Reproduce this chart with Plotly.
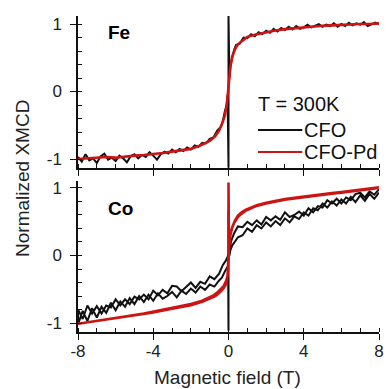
import plotly.graph_objects as go

# ---------------- data ----------------
fe_cfo_H = [-8.0, -7.8, -7.6, -7.4, -7.2, -7.0, -6.8, -6.6, -6.4, -6.2, -6.0, -5.8, -5.6, -5.4, -5.2,
            -5.0, -4.8, -4.6, -4.4, -4.2, -4.0, -3.8, -3.6, -3.4, -3.2, -3.0, -2.8, -2.6, -2.4, -2.2,
            -2.0, -1.8, -1.6, -1.4, -1.2, -1.0, -0.8, -0.6, -0.4,
            -0.3, -0.2, -0.1, -0.05, 0.0, 0.0, 0.05, 0.1, 0.2, 0.3,
            0.4, 0.6, 0.8, 1.0, 1.2, 1.4, 1.6, 1.8, 2.0, 2.2, 2.4, 2.6, 2.8, 3.0, 3.2, 3.4, 3.6, 3.8,
            4.0, 4.2, 4.4, 4.6, 4.8, 5.0, 5.2, 5.4, 5.6, 5.8, 6.0, 6.2, 6.4, 6.6, 6.8, 7.0, 7.2, 7.4,
            7.6, 7.8, 8.0]
fe_cfo_M = [-0.97, -1.04, -0.93, -1.02, -0.99, -1.06, -0.96, -0.92, -1.01, -0.98, -1.03, -0.95, -0.99,
            -1.05, -0.96, -0.93, -0.99, -0.94, -0.97, -0.90, -0.95, -1.01, -0.93, -0.89, -0.92, -0.86,
            -0.90, -0.85, -0.88, -0.83, -0.86, -0.80, -0.82, -0.76, -0.77, -0.70, -0.68, -0.58, -0.52,
            -0.44, -0.30, -0.20, -0.05, -1.13, 1.12, 0.20, 0.38, 0.50, 0.62,
            0.69, 0.71, 0.80, 0.79, 0.85, 0.82, 0.88, 0.85, 0.90, 0.87, 0.93, 0.89, 0.94, 0.91, 0.96,
            0.92, 0.97, 0.93, 0.95, 0.99, 0.95, 0.98, 1.00, 0.96, 0.99, 0.97, 1.01, 0.96, 1.00, 0.97,
            1.02, 0.98, 1.01, 0.99, 1.03, 0.97, 0.99, 1.02, 1.00]

fe_pd_H = [-8, -7.5, -7, -6.5, -6, -5.5, -5, -4.5, -4, -3.5, -3, -2.5, -2, -1.5, -1, -0.7, -0.5,
           -0.35, -0.2, -0.1, 0, 0.1, 0.2, 0.35, 0.5, 0.7, 1, 1.5, 2, 2.5, 3, 3.5, 4, 4.5, 5, 5.5,
           6, 6.5, 7, 7.5, 8]
fe_pd_M = [-1.0, -0.99, -0.99, -0.97, -0.98, -0.96, -0.95, -0.94, -0.93, -0.91, -0.89, -0.87, -0.85,
           -0.80, -0.73, -0.66, -0.58, -0.48, -0.36, -0.22, 0.05, 0.36, 0.52, 0.63, 0.70, 0.75, 0.81,
           0.85, 0.88, 0.905, 0.925, 0.94, 0.955, 0.965, 0.975, 0.98, 0.99, 0.995, 1.0, 1.0, 1.01]

co_cfo_desc_H = [8.0, 7.75, 7.5, 7.25, 7.0, 6.75, 6.5, 6.25, 6.0, 5.75, 5.5, 5.25, 5.0, 4.75, 4.5,
                 4.25, 4.0, 3.75, 3.5, 3.25, 3.0, 2.75, 2.5, 2.25, 2.0, 1.75, 1.5, 1.25, 1.0, 0.75,
                 0.5, 0.3, 0.15, 0.05, -0.05, -0.15, -0.3, -0.5, -0.75, -1.0, -1.25, -1.5, -1.75,
                 -2.0, -2.25, -2.5, -2.75, -3.0, -3.25, -3.5, -3.75, -4.0, -4.25, -4.5, -4.75, -5.0,
                 -5.25, -5.5, -5.75, -6.0, -6.25, -6.5, -6.75, -7.0, -7.25, -7.5, -7.75, -8.0]
co_cfo_desc_M = [0.98, 0.90, 0.95, 0.86, 0.93, 0.91, 0.82, 0.86, 0.77, 0.84, 0.77, 0.82, 0.71, 0.73,
                 0.64, 0.70, 0.59, 0.65, 0.60, 0.57, 0.64, 0.53, 0.58, 0.52, 0.57, 0.46, 0.52, 0.45,
                 0.50, 0.42, 0.43, 0.33, 0.22, 0.10, -0.02, -0.08, -0.14, -0.27, -0.35, -0.31, -0.42,
                 -0.39, -0.48, -0.40, -0.46, -0.53, -0.46, -0.45, -0.56, -0.51, -0.59, -0.52, -0.65,
                 -0.58, -0.65, -0.61, -0.72, -0.65, -0.74, -0.65, -0.77, -0.74, -0.86, -0.75, -0.86,
                 -0.74, -0.94, -0.80]
co_cfo_asc_H = [-8.0, -7.75, -7.5, -7.25, -7.0, -6.75, -6.5, -6.25, -6.0, -5.75, -5.5, -5.25, -5.0,
                -4.75, -4.5, -4.25, -4.0, -3.75, -3.5, -3.25, -3.0, -2.75, -2.5, -2.25, -2.0, -1.75,
                -1.5, -1.25, -1.0, -0.75, -0.5, -0.35, -0.2, -0.1, -0.02, 0.0, 0.0, 0.05, 0.1, 0.2,
                0.3, 0.5, 0.75, 1.0, 1.25, 1.5, 1.75, 2.0, 2.25, 2.5, 2.75, 3.0, 3.25, 3.5, 3.75, 4.0,
                4.25, 4.5, 4.75, 5.0, 5.25, 5.5, 5.75, 6.0, 6.25, 6.5, 6.75, 7.0, 7.25, 7.5, 7.75, 8.0]
co_cfo_asc_M = [-1.02, -0.82, -0.97, -0.78, -0.92, -0.76, -0.85, -0.70, -0.81, -0.68, -0.76, -0.63,
                -0.72, -0.60, -0.69, -0.58, -0.67, -0.56, -0.64, -0.60, -0.54, -0.62, -0.52, -0.57,
                -0.49, -0.55, -0.46, -0.51, -0.43, -0.46, -0.37, -0.33, -0.24, -0.18, -0.15, -1.11,
                0.67, 0.0, 0.08, 0.15, 0.19, 0.27, 0.30, 0.40, 0.35, 0.45, 0.40, 0.49, 0.43, 0.51,
                0.45, 0.55, 0.49, 0.58, 0.54, 0.64, 0.59, 0.70, 0.67, 0.77, 0.71, 0.80, 0.74, 0.83,
                0.77, 0.87, 0.79, 0.89, 0.81, 0.91, 0.84, 0.93]

co_pd_desc_H = [8, 7.5, 7, 6.5, 6, 5.5, 5, 4.5, 4, 3.5, 3, 2.5, 2, 1.5, 1.2, 0.9, 0.7, 0.5, 0.35,
                0.2, 0.1, 0.03, -0.05, -0.12, -0.25, -0.4, -0.6, -0.8, -1.0, -1.4, -2, -2.5, -3,
                -3.5, -4, -4.5, -5, -5.5, -6, -6.5, -7, -7.5, -8]
co_pd_desc_M = [1.01, 0.99, 0.97, 0.955, 0.94, 0.925, 0.91, 0.89, 0.875, 0.855, 0.835, 0.81, 0.78,
                0.745, 0.715, 0.675, 0.64, 0.59, 0.52, 0.42, 0.30, 0.10, -0.30, -0.37, -0.45, -0.50,
                -0.55, -0.59, -0.62, -0.67, -0.72, -0.75, -0.78, -0.80, -0.83, -0.86, -0.88, -0.90,
                -0.92, -0.94, -0.96, -0.98, -1.00]
co_pd_asc_H = [-8, -7, -6, -5, -4, -3, -2, -1.4, -1, -0.7, -0.45, -0.25, -0.12, -0.05, 0, 0, 0.02,
               0.07, 0.15, 0.3, 0.5, 0.7, 0.9, 1.2, 1.5, 2, 2.5, 3, 3.5, 4, 4.5, 5, 5.5, 6, 6.5, 7,
               7.5, 8]
co_pd_asc_M = [-1.01, -0.97, -0.93, -0.89, -0.845, -0.79, -0.735, -0.685, -0.64, -0.60, -0.54, -0.48,
               -0.42, -0.30, 0.0, 1.08, 0.25, 0.30, 0.38, 0.48, 0.57, 0.62, 0.66, 0.70, 0.735, 0.77,
               0.80, 0.825, 0.845, 0.865, 0.88, 0.90, 0.915, 0.93, 0.95, 0.965, 0.985, 1.0]

x_tickvals = [-8, -4, 0, 4, 8]
x_ticktext = ["-8", "-4", "0", "4", "8"]
y_tickvals = [-1, 0, 1]
y_ticktext = ["-1", "0", "1"]
panel_labels = ["Fe", "Co"]
series_names = ["CFO", "CFO-Pd"]
temperature_label = "T = 300K"
x_title = "Magnetic field (T)"
y_title = "Normalized XMCD"

# ---------------- styling ----------------
FONT = "Arial, 'Liberation Sans', sans-serif"
BLACK = "#111111"
RED = "#cc1414"

fig = go.Figure()
fig.add_trace(go.Scatter(x=fe_cfo_H, y=fe_cfo_M, mode="lines", line=dict(color=BLACK, width=2),
                         xaxis="x", yaxis="y", showlegend=False))
fig.add_trace(go.Scatter(x=fe_pd_H, y=fe_pd_M, mode="lines", line=dict(color=RED, width=2.6),
                         xaxis="x", yaxis="y", showlegend=False))
fig.add_trace(go.Scatter(x=co_cfo_desc_H + co_cfo_asc_H, y=co_cfo_desc_M + co_cfo_asc_M, mode="lines",
                         line=dict(color=BLACK, width=2), xaxis="x2", yaxis="y2", showlegend=False))
fig.add_trace(go.Scatter(x=co_pd_desc_H + co_pd_asc_H, y=co_pd_desc_M + co_pd_asc_M, mode="lines",
                         line=dict(color=RED, width=2.6), xaxis="x2", yaxis="y2", showlegend=False))

L, R, T, B = 78, 4, 16, 57
W, H = 388, 389
PW, PH = W - L - R, H - T - B


def px(xp):
    return (xp - L) / PW


def py(yp):
    return (H - B - yp) / PH


common_x = dict(range=[-8, 8], showgrid=False, zeroline=False, showline=True, linecolor=BLACK,
                linewidth=1.5, ticks="outside", ticklen=6, tickwidth=1.3, tickcolor=BLACK,
                tickmode="array", tickvals=x_tickvals, ticktext=x_ticktext, ticklabeloverflow="allow",
                ticklabelstandoff=-3,
                tickfont=dict(family=FONT, size=17, color="#222"),
                minor=dict(ticks="inside", tickmode="linear", tick0=0, dtick=1, ticklen=4,
                           tickwidth=1.2, tickcolor=BLACK))
common_y = dict(showgrid=False, zeroline=False, showline=True, linecolor=BLACK, linewidth=1.5,
                ticks="outside", ticklen=6, tickwidth=1.3, tickcolor=BLACK,
                tickmode="array", tickvals=y_tickvals, ticktext=y_ticktext, ticklabelstandoff=5,
                tickfont=dict(family=FONT, size=17, color="#222"),
                minor=dict(ticks="inside", tickmode="linear", tick0=0, dtick=0.2, ticklen=4,
                           tickwidth=1.2, tickcolor=BLACK))

fig.update_layout(
    width=W, height=H, margin=dict(l=L, r=R, t=T, b=B),
    paper_bgcolor="white", plot_bgcolor="white", showlegend=False,
    xaxis=dict(common_x, anchor="y", showticklabels=False),
    yaxis=dict(common_y, domain=[0.519, 1.0], range=[-1.133, 1.119]),
    xaxis2=dict(common_x, anchor="y2"),
    yaxis2=dict(common_y, domain=[0.0, 0.478], range=[-1.133, 1.104]),
)


def label(text, xp, yp, xanchor="center", size=19, angle=0, color="#111"):
    return dict(text=text, x=px(xp), y=py(yp), xref="paper", yref="paper", xanchor=xanchor,
                yanchor="middle", textangle=angle, showarrow=False,
                font=dict(family=FONT, size=size, color=color))


ann = [
    label("<b>%s</b>" % panel_labels[0], 120, 33, color="black"),
    label("<b>%s</b>" % panel_labels[1], 121, 209, color="black"),
    label(temperature_label, 259, 104, xanchor="left", size=20),
    label(series_names[0], 306, 130, xanchor="left", size=20),
    label(series_names[1], 306, 152, xanchor="left", size=20),
    label(x_title, 230, 378, color="#222"),
    label(y_title, 21, 178, angle=-90, color="#222"),
]
fig.update_layout(annotations=ann)

fig.add_shape(type="line", xref="paper", yref="paper", x0=px(261), x1=px(306), y0=py(130), y1=py(130),
              line=dict(color=BLACK, width=2))
fig.add_shape(type="line", xref="paper", yref="paper", x0=px(261), x1=px(306), y0=py(152), y1=py(152),
              line=dict(color=RED, width=2))

fig.write_html("out.html", config={"displayModeBar": False},
               post_script="document.body.style.margin='0';document.body.style.overflow='hidden';")
